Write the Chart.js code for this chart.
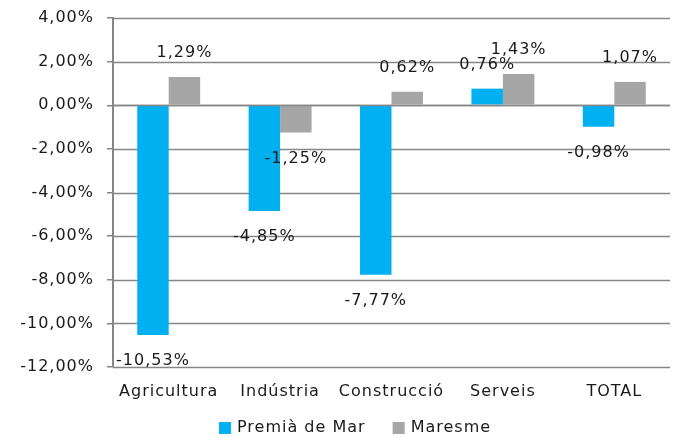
<!DOCTYPE html>
<html>
<head>
<meta charset="utf-8">
<script src="https://cdn.jsdelivr.net/npm/chart.js@4.4.1/dist/chart.umd.min.js"></script>
<style>
  html, body { margin: 0; padding: 0; background: #fff; }
  #wrap { width: 677px; height: 437px; }
</style>
</head>
<body>
<div id="wrap"><canvas id="c" width="677" height="437"></canvas></div>
<script>
const categories = ['Agricultura', 'Indústria', 'Construcció', 'Serveis', 'TOTAL'];
const premiaValues = [-10.53, -4.85, -7.77, 0.76, -0.98];
const maresmeValues = [1.29, -1.25, 0.62, 1.43, 1.07];
const seriesNames = ['Premià de Mar', 'Maresme'];
const seriesColors = ['#00B0F0', '#A6A6A6'];
const yTicks = [-12, -10, -8, -6, -4, -2, 0, 2, 4];

const FONT = "'DejaVu Sans', Verdana, sans-serif";
const TEXT = '#1a1a1a';
const GRID = '#868686';
const fmt = v => v.toFixed(2).replace('.', ',') + '%';

const spacingPlugin = {
  id: 'spacing',
  beforeDraw(chart) { chart.ctx.letterSpacing = '1px'; }
};

function hline(chart, value) {
  const ctx = chart.ctx;
  const y = chart.scales.y;
  const area = chart.chartArea;
  const py = Math.round(y.getPixelForValue(value)) + 0.5;
  ctx.beginPath();
  ctx.moveTo(area.left, py);
  ctx.lineTo(area.right, py);
  ctx.stroke();
}

const gridPlugin = {
  id: 'hgrid',
  beforeDatasetsDraw(chart) {
    const ctx = chart.ctx;
    ctx.save();
    ctx.strokeStyle = GRID;
    ctx.lineWidth = 1.5;
    chart.scales.y.ticks.forEach(t => hline(chart, t.value));
    ctx.restore();
  },
  afterDatasetsDraw(chart) {
    const ctx = chart.ctx;
    ctx.save();
    ctx.strokeStyle = GRID;
    ctx.lineWidth = 1.5;
    hline(chart, 0);
    ctx.restore();
  }
};

const labelPlugin = {
  id: 'barLabels',
  afterDatasetsDraw(chart) {
    const ctx = chart.ctx;
    ctx.save();
    ctx.letterSpacing = '1px';
    ctx.font = '16px ' + FONT;
    ctx.fillStyle = TEXT;
    ctx.textAlign = 'center';
    ctx.textBaseline = 'middle';
    chart.data.datasets.forEach((ds, di) => {
      const meta = chart.getDatasetMeta(di);
      meta.data.forEach((el, i) => {
        const v = ds.data[i];
        const y = v >= 0 ? el.y - 24 : el.y + 26;
        ctx.fillText(fmt(v), el.x, y);
      });
    });
    ctx.restore();
  }
};

const legendPlugin = {
  id: 'customLegend',
  afterDraw(chart) {
    const ctx = chart.ctx;
    ctx.save();
    ctx.letterSpacing = '1px';
    ctx.font = '16px ' + FONT;
    ctx.textAlign = 'left';
    ctx.textBaseline = 'middle';
    let x = 219;
    const cy = 428;
    chart.data.datasets.forEach((ds, di) => {
      ctx.fillStyle = ds.backgroundColor;
      ctx.fillRect(x, cy - 6, 12, 12);
      ctx.fillStyle = TEXT;
      ctx.fillText(ds.label, x + 18, cy);
      x += 18 + ctx.measureText(ds.label).width + 27;
    });
    ctx.restore();
  }
};

new Chart(document.getElementById('c'), {
  type: 'bar',
  data: {
    labels: categories,
    datasets: [
      { label: seriesNames[0], data: premiaValues, backgroundColor: seriesColors[0] },
      { label: seriesNames[1], data: maresmeValues, backgroundColor: seriesColors[1] }
    ]
  },
  options: {
    responsive: false,
    animation: false,
    devicePixelRatio: 1,
    categoryPercentage: 0.565,
    barPercentage: 1.0,
    layout: { padding: { top: 0, right: 7, bottom: 36, left: 0 } },
    plugins: {
      legend: { display: false },
      tooltip: { enabled: false }
    },
    scales: {
      x: {
        afterFit(scale) { scale.height = 34; },
        grid: { display: false, drawTicks: false },
        border: { display: false },
        ticks: {
          color: TEXT,
          font: { family: FONT, size: 16 },
          padding: 15,
          maxRotation: 0,
          autoSkip: false
        }
      },
      y: {
        min: -12,
        max: 4,
        afterFit(scale) { scale.width = 113; },
        afterBuildTicks(scale) { scale.ticks = yTicks.map(v => ({ value: v })); },
        grid: {
          display: true,
          drawOnChartArea: false,
          color: GRID,
          lineWidth: 1.5,
          tickLength: 6,
          drawTicks: true
        },
        border: { display: true, color: GRID, width: 2 },
        ticks: {
          color: TEXT,
          font: { family: FONT, size: 16, lineHeight: 0.625 },
          padding: 13,
          callback: v => fmt(v)
        }
      }
    }
  },
  plugins: [spacingPlugin, gridPlugin, labelPlugin, legendPlugin]
});
</script>
</body>
</html>
